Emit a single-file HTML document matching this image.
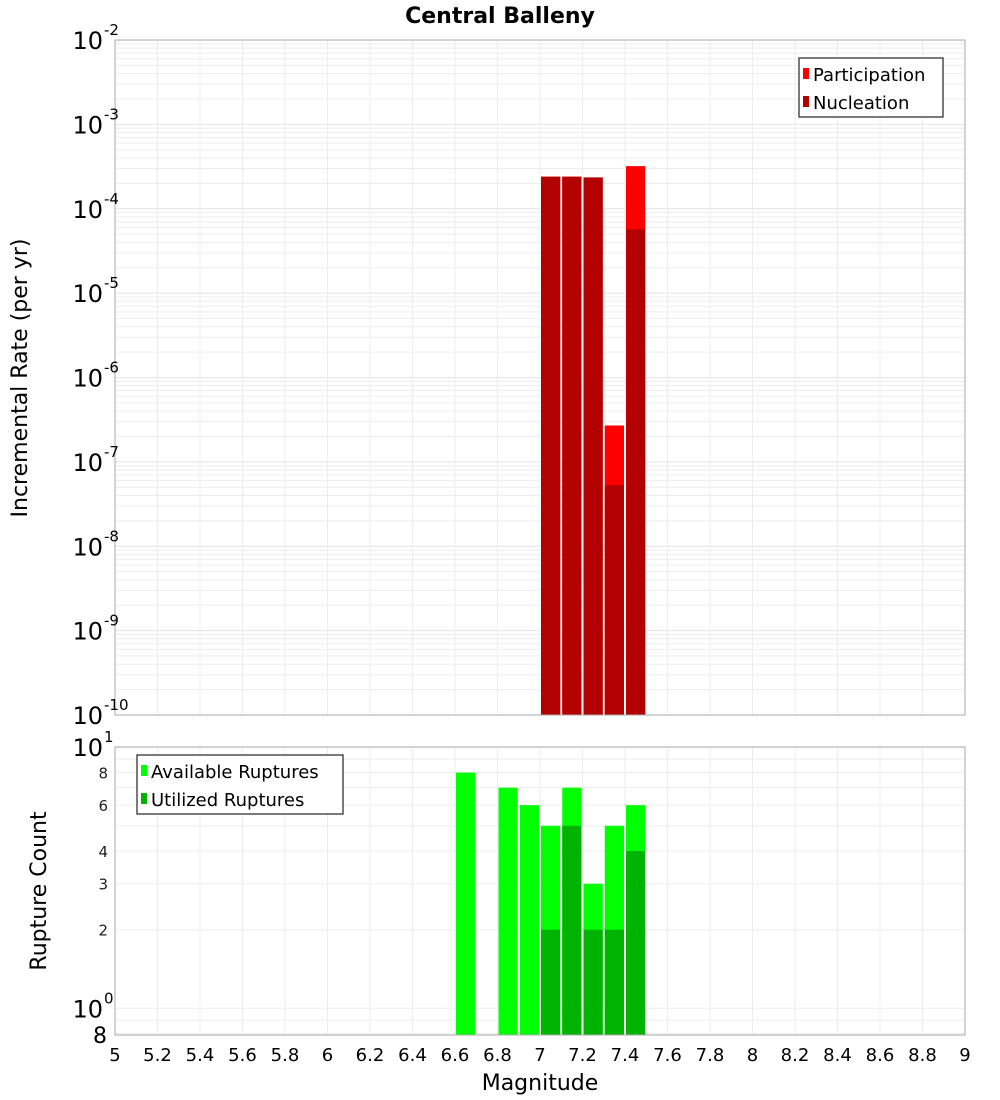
<!DOCTYPE html>
<html><head><meta charset="utf-8"><style>
body{margin:0;background:#fff;}
svg{display:block;font-family:"DejaVu Sans","Liberation Sans",sans-serif;}
</style></head><body>
<svg id="c" width="1000" height="1100" xmlns="http://www.w3.org/2000/svg"></svg>
<script>
const bins=[6.6,6.8,6.9,7.0,7.1,7.2,7.3,7.4];
const partRates=[0,0,0,2.4e-4,2.4e-4,2.35e-4,2.7e-7,3.2e-4];
const nuclRates=[0,0,0,2.4e-4,2.4e-4,2.35e-4,5.3e-8,5.7e-5];
const availCounts=[8,7,6,5,7,3,5,6];
const usedCounts=[0,0,0,2,5,2,2,4];
const xTicks=["5","5.2","5.4","5.6","5.8","6","6.2","6.4","6.6","6.8","7","7.2","7.4","7.6","7.8","8","8.2","8.4","8.6","8.8","9"];
const topExps=[-10,-9,-8,-7,-6,-5,-4,-3,-2];
const botTicks=[2,3,4,6,8];

const svg=document.getElementById('c');const NS='http://www.w3.org/2000/svg';
function el(t,a,txt){const e=document.createElementNS(NS,t);for(const k in a)e.setAttribute(k,a[k]);if(txt!=null)e.textContent=txt;svg.appendChild(e);return e;}
const L=115,R=965,T1=40,B1=715,T2=747,B2=1035;
const x=m=>L+(m-5)/4*(R-L);
const y1=v=>T1+(-2-Math.log10(v))/8*(B1-T1);
const bMin=Math.log10(0.79),bMax=1.0009;
const y2=v=>T2+(bMax-Math.log10(v))/(bMax-bMin)*(B2-T2);

// grids
for(let e=-10;e<-2;e++)for(let k=1;k<10;k++){const yy=y1(k*Math.pow(10,e));
 const g=el('line',{x1:L,x2:R,y1:yy,y2:yy,stroke:k==1?'#e4e4e4':'#ededed','stroke-width':1});
 }
[0.8,0.9,1,2,3,4,5,6,7,8,9,10].forEach(v=>{const yy=y2(v);
 const g=el('line',{x1:L,x2:R,y1:yy,y2:yy,stroke:'#ededed'});
 });
xTicks.forEach(t=>{const xx=x(+t);
 let g=el('line',{x1:xx,x2:xx,y1:T1,y2:B1,stroke:'#ededed'});
 g=el('line',{x1:xx,x2:xx,y1:T2,y2:B2,stroke:'#ededed'});});

// top bars
bins.forEach((m,i)=>{const x0=x(m)+1,w=x(m+0.1)-x(m)-2;
 if(partRates[i]>0){const r=el('rect',{x:x0,y:y1(partRates[i]),width:w,height:B1-y1(partRates[i]),fill:'#ff0000'});
  }
 if(nuclRates[i]>0){const r=el('rect',{x:x0,y:y1(nuclRates[i]),width:w,height:B1-y1(nuclRates[i]),fill:'#b30000'});
  }
});
// bottom bars
bins.forEach((m,i)=>{const x0=x(m)+1,w=x(m+0.1)-x(m)-2;
 if(availCounts[i]>0){const r=el('rect',{x:x0,y:y2(availCounts[i]),width:w,height:B2-y2(availCounts[i]),fill:'#00ff00'});
  }
 if(usedCounts[i]>0){const r=el('rect',{x:x0,y:y2(usedCounts[i]),width:w,height:B2-y2(usedCounts[i]),fill:'#00b300'});
  }
});
// frames
let f=el('rect',{x:L,y:T1,width:R-L,height:B1-T1,fill:'none',stroke:'#aaa'});
f=el('rect',{x:L,y:T2,width:R-L,height:B2-T2,fill:'none',stroke:'#aaa'});

// top y labels
topExps.forEach(e=>{const yy=y1(Math.pow(10,e));
 const t=el('text',{x:103,y:yy+9,'text-anchor':'end','font-size':24,fill:'#000'},'10');
 
 const s=el('text',{x:104,y:yy-5,'font-size':15,fill:'#000'},String(e));
 });
// bottom y labels
[[10,'1'],[1,'0']].forEach(([v,ex])=>{const yy=y2(v);
 const t=el('text',{x:103,y:yy+9,'text-anchor':'end','font-size':24},'10');
 const s=el('text',{x:104,y:yy-5,'font-size':15},ex);});
botTicks.forEach(v=>{const t=el('text',{x:108,y:y2(v)+6,'text-anchor':'end','font-size':15,fill:'#222'},String(v));
 });
let t8=el('text',{x:107,y:B2+8,'text-anchor':'end','font-size':22},'8');
// x labels
xTicks.forEach(t=>{const e=el('text',{x:x(+t),y:1061,'text-anchor':'middle','font-size':18},t);
 });
// titles
let e=el('text',{x:500,y:23,'text-anchor':'middle','font-size':22,'font-weight':'bold'},'Central Balleny');
e=el('text',{x:540,y:1090,'text-anchor':'middle','font-size':22},'Magnitude');
e=el('text',{x:0,y:0,'text-anchor':'middle','font-size':22,transform:'translate(27,378) rotate(-90)'},'Incremental Rate (per yr)');
e=el('text',{x:0,y:0,'text-anchor':'middle','font-size':22,transform:'translate(46,891) rotate(-90)'},'Rupture Count');
// legends
function legend(x0,y0,w,h,items,nm){const b=el('rect',{x:x0,y:y0,width:w,height:h,fill:'#fff',stroke:'#333','stroke-width':1.3});
 
 items.forEach(([lab,col],i)=>{const yy=y0+17+i*28;
  const s=el('rect',{x:x0+4,y:yy-7,width:6,height:11,fill:col});
  const t=el('text',{x:x0+14,y:yy+6,'font-size':18},lab);});}
legend(799,58,144,59,[['Participation','#ff0000'],['Nucleation','#b30000']],'top-legend');
legend(137,755,206,59,[['Available Ruptures','#00ff00'],['Utilized Ruptures','#00b300']],'bottom-legend');
</script>
</body></html>
